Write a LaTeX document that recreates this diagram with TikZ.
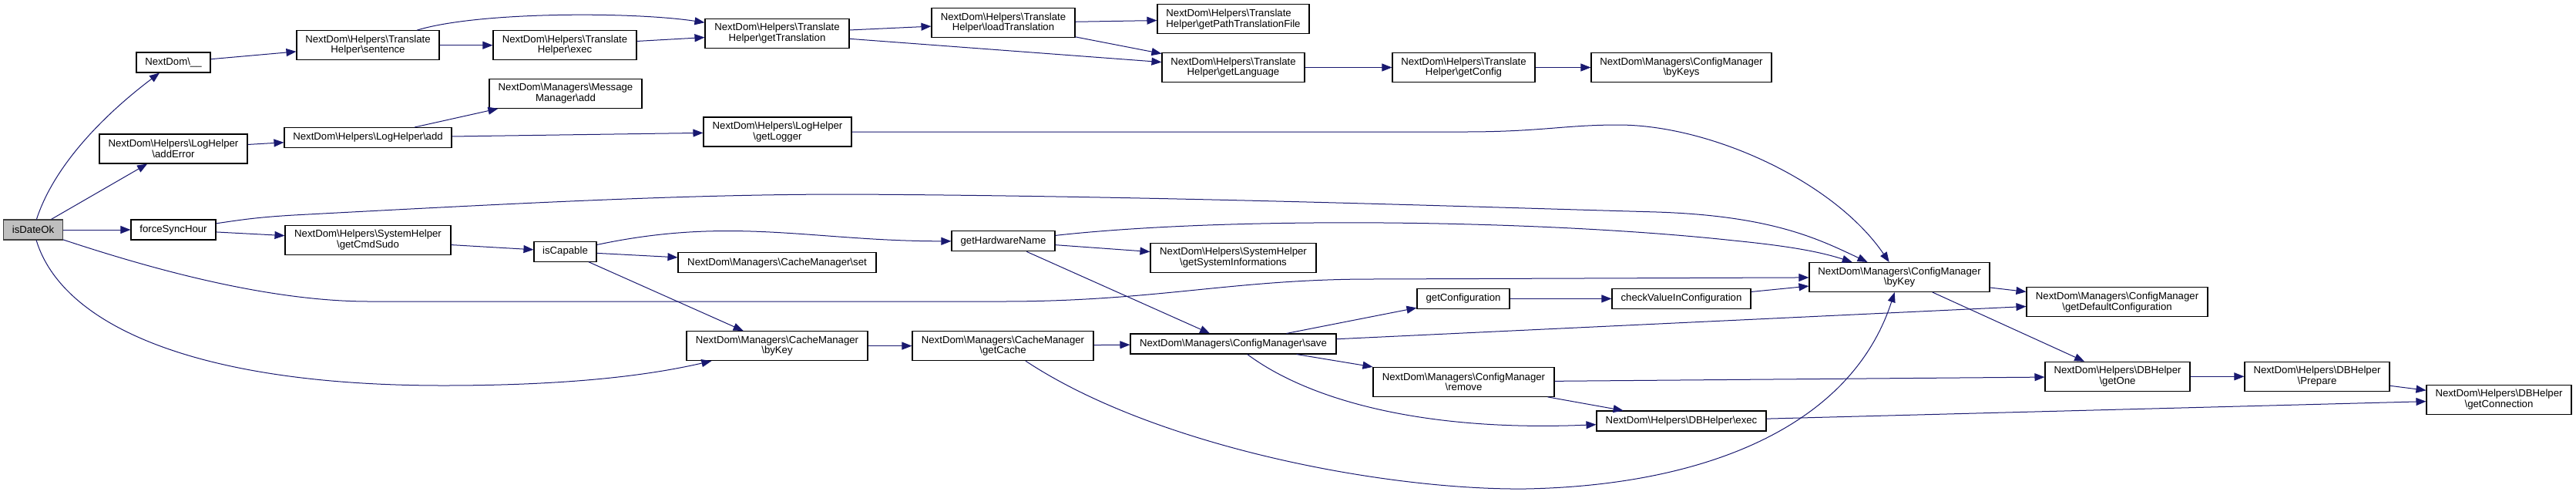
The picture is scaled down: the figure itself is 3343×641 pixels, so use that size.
\documentclass[tikz,border=0pt]{standalone}
\usepackage{fontspec}
\setmainfont{Liberation Sans}
\usetikzlibrary{arrows.meta}
\definecolor{callC}{HTML}{191970}
\definecolor{rootF}{HTML}{BFBFBF}
\definecolor{rootD}{HTML}{404040}
\newcommand{\bsl}{\textbackslash}
\tikzset{
  fn/.style={draw=black, line width=1.1pt, fill=white, align=center,
             inner sep=0pt, minimum height=26pt,
             font=\fontsize{13.2}{13.5}\selectfont},
  fntwo/.style={fn, minimum height=38pt},
  root/.style={fn, fill=rootF, draw=rootD},
  call/.style={-{Triangle[length=13pt, width=10pt]}, line width=1pt,
               draw=callC},
}

\begin{document}
\begin{tikzpicture}[x=1pt, y=-1pt]
  \useasboundingbox (0,0) rectangle (3343,641);
  % caller and first level
  \node[root, minimum width=77pt] (isDate) at (43,298) {isDateOk};
  \node[fn, minimum width=96pt] (under) at (225,81) {NextDom\bsl\_\_};
  \node[fntwo, minimum width=192pt] (addError) at (225,193)
    {NextDom\bsl Helpers\bsl LogHelper\\ \bsl addError};
  \node[fn, minimum width=110pt] (forceSync) at (225,298) {forceSyncHour};

  % second level
  \node[fntwo, minimum width=185pt] (sentence) at (477.5,58.7)
    {NextDom\bsl Helpers\bsl Translate\\ Helper\bsl sentence};
  \node[fn, minimum width=217pt] (logAdd) at (477.5,178.5)
    {NextDom\bsl Helpers\bsl LogHelper\bsl add};
  \node[fntwo, minimum width=215pt] (cmdSudo) at (477.5,311.3)
    {NextDom\bsl Helpers\bsl SystemHelper\\ \bsl getCmdSudo};

  % third level
  \node[fntwo, minimum width=186pt] (trExec) at (733,58.7)
    {NextDom\bsl Helpers\bsl Translate\\ Helper\bsl exec};
  \node[fntwo, minimum width=198pt] (msgAdd) at (734,121.3)
    {NextDom\bsl Managers\bsl Message\\ Manager\bsl add};
  \node[fn, minimum width=81pt] (isCap) at (733.5,326.2) {isCapable};

  % fourth level
  \node[fntwo, minimum width=187pt] (getTrans) at (1008.5,43.3)
    {NextDom\bsl Helpers\bsl Translate\\ Helper\bsl getTranslation};
  \node[fntwo, minimum width=192pt] (getLogger) at (1009,171)
    {NextDom\bsl Helpers\bsl LogHelper\\ \bsl getLogger};
  \node[fn, minimum width=257pt] (cacheSet) at (1008.5,340.6)
    {NextDom\bsl Managers\bsl CacheManager\bsl set};
  \node[fntwo, minimum width=235pt] (cacheByKey) at (1008.5,448.6)
    {NextDom\bsl Managers\bsl CacheManager\\ \bsl byKey};

  % fifth level
  \node[fntwo, minimum width=186pt] (loadTrans) at (1302,29.8)
    {NextDom\bsl Helpers\bsl Translate\\ Helper\bsl loadTranslation};
  \node[fn, minimum width=134pt] (hwName) at (1302,312.8) {getHardwareName};
  \node[fntwo, minimum width=235pt] (getCache) at (1301.5,448.6)
    {NextDom\bsl Managers\bsl CacheManager\\ \bsl getCache};

  % sixth level
  \node[fntwo, minimum width=197pt, align=left] (pathFile) at (1600.5,24.9)
    {NextDom\bsl Helpers\bsl Translate\\ Helper\bsl getPathTranslationFile};
  \node[fntwo, minimum width=185pt] (getLang) at (1600.5,87.5)
    {NextDom\bsl Helpers\bsl Translate\\ Helper\bsl getLanguage};
  \node[fntwo, minimum width=215pt] (sysInfo) at (1600.5,334.2)
    {NextDom\bsl Helpers\bsl SystemHelper\\ \bsl getSystemInformations};
  \node[fn, minimum width=267pt] (save) at (1600.5,446)
    {NextDom\bsl Managers\bsl ConfigManager\bsl save};

  % seventh level
  \node[fntwo, minimum width=185pt] (trConfig) at (1899.5,87.5)
    {NextDom\bsl Helpers\bsl Translate\\ Helper\bsl getConfig};
  \node[fn, minimum width=120pt] (getConf) at (1899,387.4) {getConfiguration};
  \node[fntwo, minimum width=235pt] (remove) at (1899.5,495.3)
    {NextDom\bsl Managers\bsl ConfigManager\\ \bsl remove};

  % eighth level
  \node[fntwo, minimum width=234pt] (byKeys) at (2182,87.5)
    {NextDom\bsl Managers\bsl ConfigManager\\ \bsl byKeys};
  \node[fn, minimum width=180pt] (checkVal) at (2182,387.4)
    {checkValueInConfiguration};
  \node[fn, minimum width=220pt] (dbExec) at (2182,546)
    {NextDom\bsl Helpers\bsl DBHelper\bsl exec};

  % last levels
  \node[fntwo, minimum width=234pt] (byKey) at (2465,359.5)
    {NextDom\bsl Managers\bsl ConfigManager\\ \bsl byKey};
  \node[fntwo, minimum width=235pt] (defConf) at (2747.5,391.9)
    {NextDom\bsl Managers\bsl ConfigManager\\ \bsl getDefaultConfiguration};
  \node[fntwo, minimum width=188pt] (getOne) at (2748,488.3)
    {NextDom\bsl Helpers\bsl DBHelper\\ \bsl getOne};
  \node[fntwo, minimum width=188pt] (prepare) at (3007,488.3)
    {NextDom\bsl Helpers\bsl DBHelper\\ \bsl Prepare};
  \node[fntwo, minimum width=188pt] (getConn) at (3243,518.2)
    {NextDom\bsl Helpers\bsl DBHelper\\ \bsl getConnection};

  % calls from isDateOk
  \draw[call] (isDate) .. controls (75,200) and (160,130) .. (under);
  \draw[call] (isDate) -- (addError);
  \draw[call] (isDate) -- (forceSync);
  \draw[call] (isDate) .. controls (200,350) and (350,391) .. (480,391)
    -- (1300,391) .. controls (1500,391) and (1600,362) .. (1780,362)
    -- (byKey);
  \draw[call] (isDate) .. controls (80,420) and (250,500) .. (575,500)
    .. controls (750,500) and (850,485) .. (cacheByKey);

  % translation branch
  \draw[call] (under) -- (sentence);
  \draw[call] (sentence) -- (trExec);
  \draw[call] (sentence) .. controls (620,15) and (820,15) .. (getTrans);
  \draw[call] (trExec) -- (getTrans);
  \draw[call] (getTrans) -- (loadTrans);
  \draw[call] (getTrans) -- (getLang);
  \draw[call] (loadTrans) -- (pathFile);
  \draw[call] (loadTrans) -- (getLang);
  \draw[call] (getLang) -- (trConfig);
  \draw[call] (trConfig) -- (byKeys);

  % log branch
  \draw[call] (addError) -- (logAdd);
  \draw[call] (logAdd) -- (msgAdd);
  \draw[call] (logAdd) -- (getLogger);
  \draw[call] (getLogger) -- (1900,171) .. controls (2000,171) and (2030,162)
    .. (2100,162) .. controls (2220,162) and (2380,235) .. (byKey);

  % forceSyncHour branch
  \draw[call] (forceSync) .. controls (320,284) and (340,281) .. (400,278)
    .. controls (700,262) and (900,252) .. (1100,252)
    .. controls (1500,254) and (1900,268) .. (2150,275)
    .. controls (2300,280) and (2360,310) .. (byKey);
  \draw[call] (forceSync) -- (cmdSudo);
  \draw[call] (cmdSudo) -- (isCap);
  \draw[call] (isCap) to[out=12, in=180] (hwName);
  \draw[call] (isCap) -- (cacheSet);
  \draw[call] (isCap) -- (cacheByKey);
  \draw[call] (hwName) .. controls (1600,280) and (2000,285) .. (2250,312)
    .. controls (2320,319) and (2360,326) .. (byKey);
  \draw[call] (hwName) -- (sysInfo);
  \draw[call] (hwName) -- (save);

  % cache and config
  \draw[call] (cacheByKey) -- (getCache);
  \draw[call] (getCache) -- (save);
  \draw[call] (getCache) .. controls (1500,580) and (1800,636) .. (1980,634)
    .. controls (2200,630) and (2400,560) .. (byKey);
  \draw[call] (save) -- (getConf);
  \draw[call] (save) -- (defConf);
  \draw[call] (save) -- (remove);
  \draw[call] (save) .. controls (1700,520) and (1850,560) .. (dbExec);
  \draw[call] (getConf) -- (checkVal);
  \draw[call] (checkVal) -- (byKey);
  \draw[call] (byKey) -- (defConf);
  \draw[call] (byKey) -- (getOne);
  \draw[call] (remove) -- (getOne);
  \draw[call] (remove) -- (dbExec);

  % database helper
  \draw[call] (dbExec) -- (getConn);
  \draw[call] (getOne) -- (prepare);
  \draw[call] (prepare) -- (getConn);
\end{tikzpicture}
\end{document}
